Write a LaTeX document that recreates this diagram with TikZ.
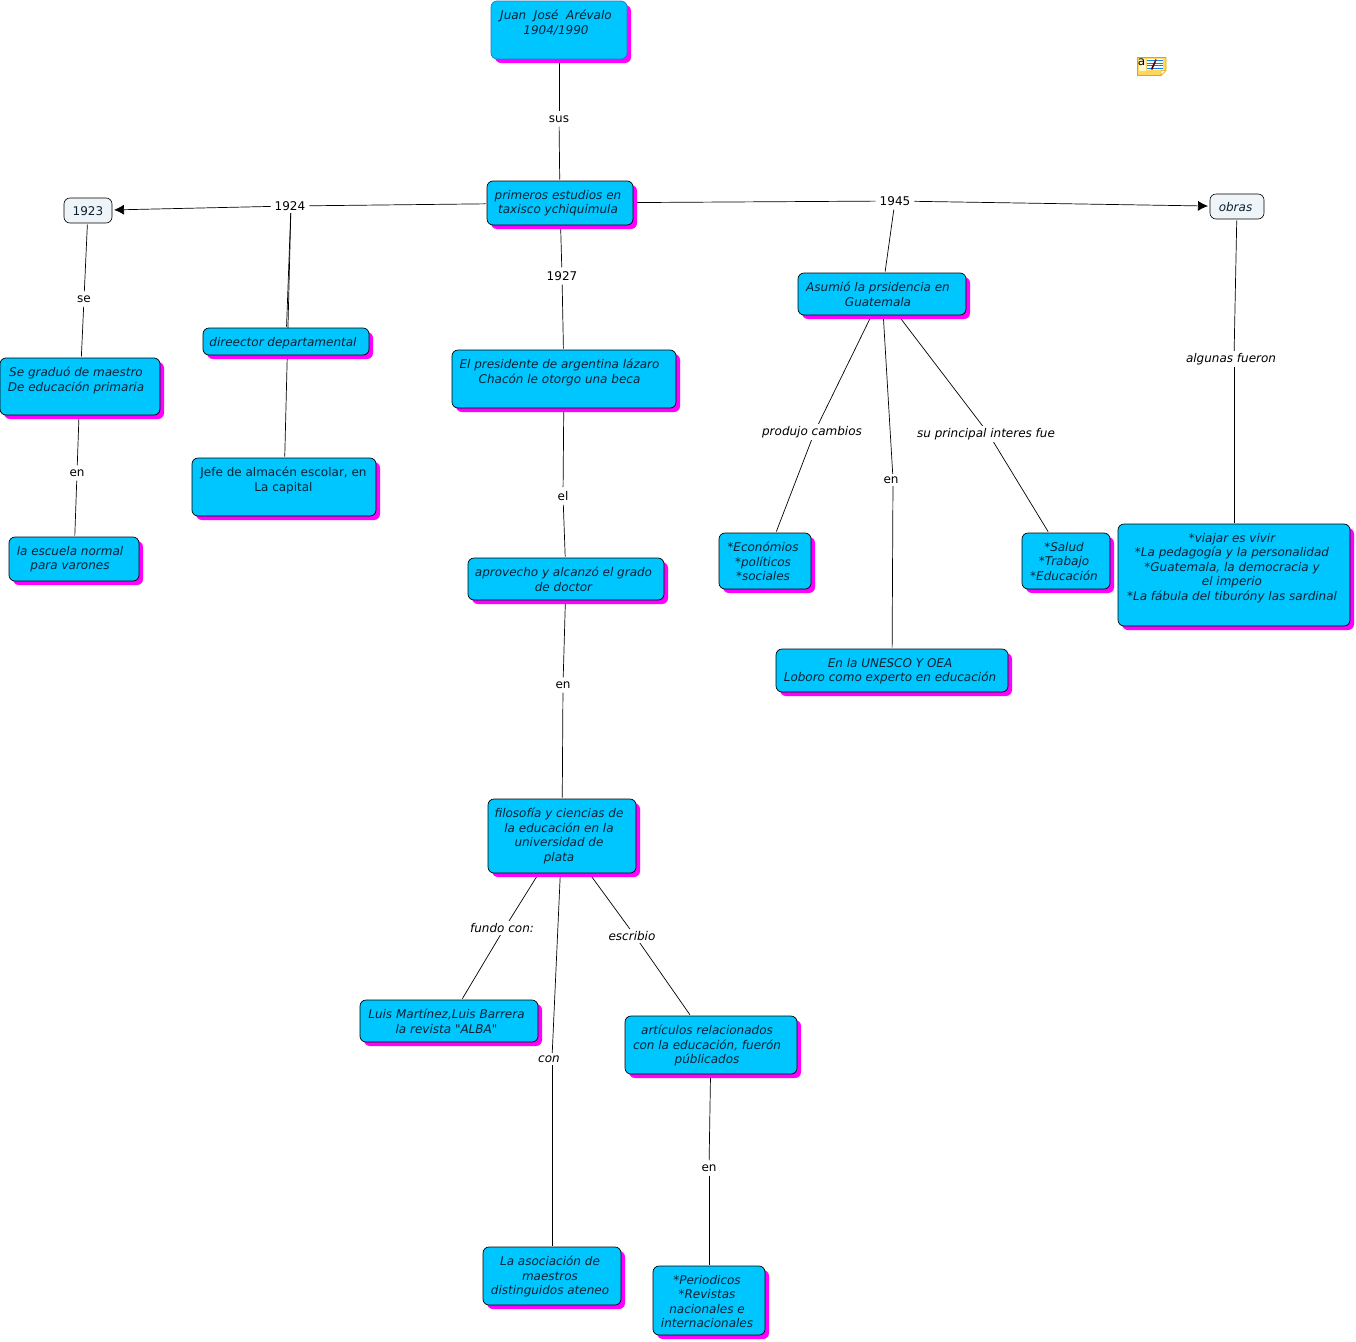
\documentclass[tikz,border=0pt]{standalone}
\usepackage{fontspec}
\setmainfont{DejaVu Sans}
\newfontfamily\straightq{DejaVu Sans}
\usetikzlibrary{shadows,arrows.meta}
\pgfdeclarelayer{bg}
\pgfsetlayers{bg,main}
\definecolor{boxblue}{HTML}{00C6FF}
\definecolor{boxshadow}{HTML}{FF00FF}
\definecolor{palebox}{HTML}{EEF4F7}
\definecolor{txtcol}{HTML}{0A2233}
\definecolor{noteyellow}{HTML}{FFD75E}
\definecolor{noteedge}{HTML}{E0A800}
\definecolor{notepale}{HTML}{FFF6CC}
\definecolor{selblue}{HTML}{1F7FC4}
\tikzset{
  x=1pt,y=-1pt,
  concept/.style={draw=black,fill=boxblue,rounded corners=6pt,line width=0.7pt,inner sep=0pt,outer sep=0pt,
    general shadow={shadow xshift=4pt,shadow yshift=-4pt,fill=boxshadow}},
  selconcept/.style={concept,draw=selblue},
  plainbox/.style={draw=black,fill=palebox,rounded corners=6pt,line width=0.6pt,inner sep=0pt,outer sep=0pt},
  boxtext/.style={align=center,inner sep=0pt,anchor=north,text=txtcol,font=\fontsize{12}{14.5}\selectfont\itshape},
  linklabel/.style={fill=white,inner sep=2.5pt,text=black,font=\fontsize{12}{14}\selectfont},
  ilinklabel/.style={linklabel,font=\fontsize{12}{14}\selectfont\itshape},
  conn/.style={draw=black,line width=0.7pt,shorten >=1.5pt,shorten <=1.5pt},
  connarrow/.style={conn,-{Latex[length=10pt,width=10pt]},shorten >=2pt},
}
\newcommand{\boxdrop}{9}
\newcommand{\cbox}[8][concept]{%
  \pgfmathsetmacro{\bw}{#5-#3}\pgfmathsetmacro{\bh}{#6-#4}%
  \node[#1,minimum width=\bw pt,minimum height=\bh pt] (#2) at ({(#3+#5)/2},{(#4+#6)/2}) {};%
  \node[boxtext] (#2-t) at (#7,#4+\boxdrop) {#8};}
\begin{document}
\begin{tikzpicture}
\useasboundingbox (0,0) rectangle (1356,1341);
% boxes
\cbox[selconcept]{juan}{491}{1}{627}{59}{556}{Juan\ \ José\ \ Arévalo\\1904/1990}
\cbox{prim}{487}{181}{633}{225}{558}{primeros estudios en\\taxisco ychiquimula}
\cbox{grad}{0}{358}{160}{415}{76}{Se graduó de maestro\\De educación primaria}
\cbox{dir}{203}{328}{369}{355}{283}{direector departamental}
\cbox{jefe}{192}{458}{376}{516}{283.5}{\upshape Jefe de almacén escolar, en\\\upshape La capital}
\cbox{esc}{9}{537}{139}{581}{70}{la escuela normal\\para varones}
\cbox{pres}{452}{350}{676}{408}{559.5}{El presidente de argentina lázaro\\Chacón le otorgo una beca}
\cbox{apro}{468}{558}{664}{600}{563.5}{aprovecho y alcanzó el grado\\de doctor}
\cbox{filo}{488}{799}{636}{873}{559}{filosofía y ciencias de\\la educación en la\\universidad de\\plata}
\cbox{luis}{360}{1000}{538}{1042}{446.5}{Luis Martínez,Luis Barrera\\la revista {\straightq\itshape"}ALBA{\straightq\itshape"}}
\cbox{asoc}{483}{1247}{621}{1305}{550}{La asociación de\\maestros\\distinguidos ateneo}
\cbox{arti}{625}{1016}{797}{1074}{707}{artículos relacionados\\con la educación, fuerón\\públicados}
\cbox{peri}{653}{1266}{765}{1335}{707}{*Periodicos\\*Revistas\\nacionales e\\internacionales}
\cbox{asum}{798}{273}{966}{315}{878}{Asumió la prsidencia en\\Guatemala}
\cbox{econ}{719}{533}{811}{589}{763}{*Económios\\*políticos\\*sociales}
\cbox{salud}{1022}{533}{1110}{589}{1064}{*Salud\\*Trabajo\\*Educación}
\cbox{unes}{776}{649}{1008}{692}{890}{En la UNESCO Y OEA\\Loboro como experto en educación}
\cbox{viaj}{1118}{524}{1350}{626}{1232}{*viajar es vivir\\*La pedagogía y la personalidad\\*Guatemala, la democracia y\\el imperio\\*La fábula del tiburóny las sardinal}
\renewcommand{\boxdrop}{8}
\cbox[plainbox]{y23}{64}{198}{112}{223}{88}{\upshape 1923}
\cbox[plainbox]{obras}{1210}{194}{1264}{219}{1235.5}{obras}
% link labels
\node[linklabel] (lsus) at (559,119) {sus};
\node[linklabel] (l24) at (290,206) {1924};
\node[linklabel] (l45) at (895,201) {1945};
\node[linklabel] (l27) at (562,276) {1927};
\node[linklabel] (lse) at (84,299) {se};
\node[linklabel] (len1) at (77,473) {en};
\node[linklabel] (lel) at (563,496) {el};
\node[linklabel] (len2) at (563,685) {en};
\node[ilinklabel] (lprod) at (812,432) {produjo cambios};
\node[linklabel] (len3) at (891,480) {en};
\node[ilinklabel] (lsu) at (986,434) {su principal interes fue};
\node[ilinklabel] (lalg) at (1231,359) {algunas fueron};
\node[ilinklabel] (lfun) at (502,928) {fundo con:};
\node[ilinklabel] (lesc) at (632,936) {escribio};
\node[ilinklabel] (lcon) at (549,1059) {con};
\node[linklabel] (len4) at (709,1168) {en};
% pivots where a connector passes behind its label off the text centre
\coordinate (pprod) at (815,431);
\coordinate (pen3) at (893,479);
\coordinate (psu) at (988,433);
\coordinate (palg) at (1234,358);
\coordinate (pfun) at (504,929);
\coordinate (pesc) at (635,936);
\coordinate (pcon) at (552,1058);
\coordinate (p24) at (291,205);
% connectors
\begin{pgfonlayer}{bg}
\draw[conn] (juan) -- (lsus);
\draw[conn] (lsus) -- (prim);
\draw[conn] (prim) -- (l24);
\draw[connarrow] (l24) -- (y23);
\draw[conn] (p24) -- (dir);
\draw[conn] (p24) -- (jefe);
\draw[conn] (y23) -- (lse);
\draw[conn] (lse) -- (grad);
\draw[conn] (grad) -- (len1);
\draw[conn] (len1) -- (esc);
\draw[conn] (prim) -- (l27);
\draw[conn] (l27) -- (pres);
\draw[conn] (pres) -- (lel);
\draw[conn] (lel) -- (apro);
\draw[conn] (apro) -- (len2);
\draw[conn] (len2) -- (filo);
\draw[conn] (filo) -- (pfun);
\draw[conn] (pfun) -- (luis);
\draw[conn] (filo) -- (pcon);
\draw[conn] (pcon) -- (asoc);
\draw[conn] (filo) -- (pesc);
\draw[conn] (pesc) -- (arti);
\draw[conn] (arti) -- (len4);
\draw[conn] (len4) -- (peri);
\draw[conn] (prim) -- (l45);
\draw[connarrow] (l45) -- (obras);
\draw[conn] (l45) -- (asum);
\draw[conn] (asum) -- (pprod);
\draw[conn] (pprod) -- (econ);
\draw[conn] (asum) -- (pen3);
\draw[conn] (pen3) -- (unes);
\draw[conn] (asum) -- (psu);
\draw[conn] (psu) -- (salud);
\draw[conn] (obras) -- (palg);
\draw[conn] (palg) -- (viaj);
\end{pgfonlayer}
% note icon
\fill[noteyellow,draw=noteedge,line width=0.8pt] (1137.5,57.5) -- (1166,57.5) -- (1166,70) -- (1161,75.5) -- (1137.5,75.5) -- cycle;
\fill[notepale] (1138.5,58.5) rectangle (1146,71);
\fill[white] (1146.5,58.5) rectangle (1163,70);
\foreach \yy in {60.5,63,65.5,68} \draw[blue!50!cyan,line width=0.7pt] (1147,\yy) -- (1163,\yy);
\draw[black!70!red,line width=1.6pt] (1151.5,69.5) -- (1155,62);
\draw[red!70!black,line width=1.6pt] (1155,62) -- (1156,59.5);
\node[inner sep=0pt,text=black,font=\fontsize{12}{12}\selectfont] (noteA) at (1141.5,62) {a};
\fill[white,draw=noteedge,line width=0.5pt] (1161,75.5) -- (1161,70.5) -- (1166,70.5) -- cycle;
\end{tikzpicture}
\end{document}
